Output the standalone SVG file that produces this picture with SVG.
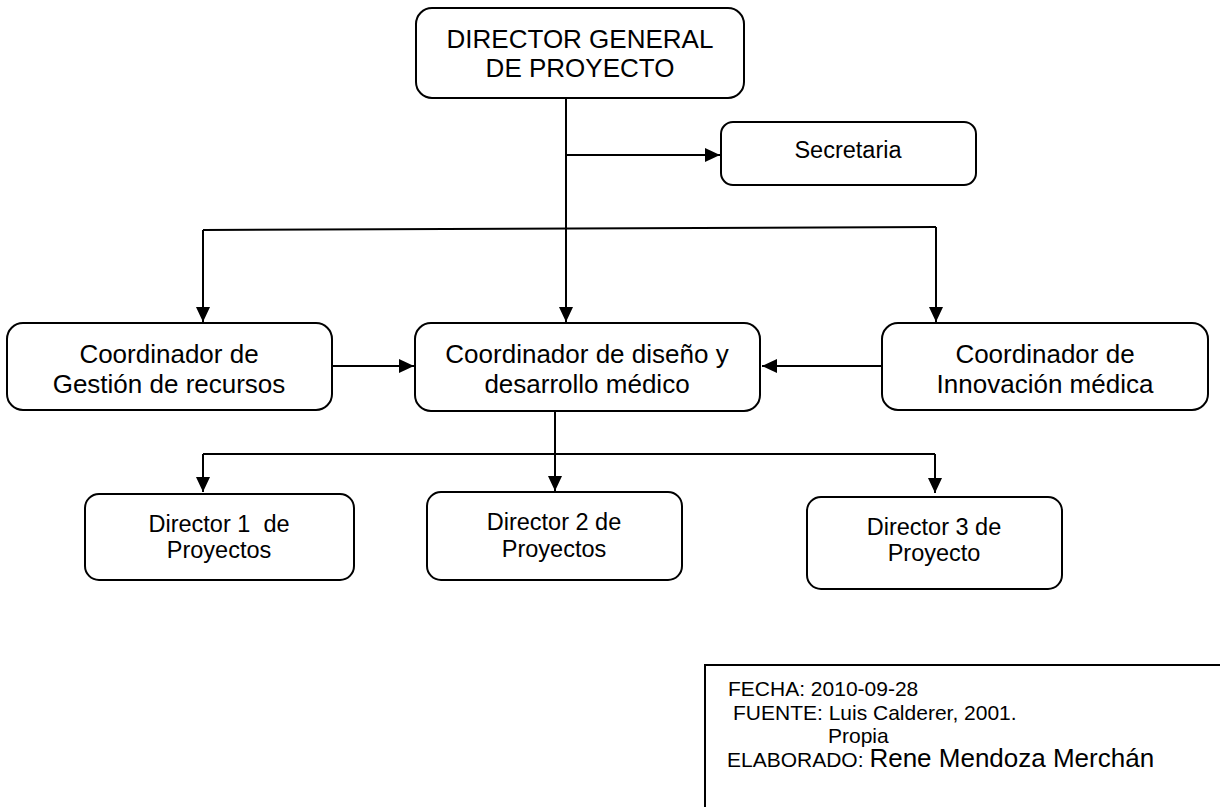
<svg xmlns="http://www.w3.org/2000/svg" width="1220" height="807" viewBox="0 0 1220 807">
  <defs>
    <marker id="arrow" viewBox="0 0 15 14" refX="15" refY="7" markerWidth="15" markerHeight="14" markerUnits="userSpaceOnUse" orient="auto">
      <path d="M0,0 L15,7 L0,14 Z" fill="#000"/>
    </marker>
    <style>
      .box { fill: #fff; stroke: #000; stroke-width: 2; }
      .line { fill: none; stroke: #000; stroke-width: 2; }
      .arr { fill: none; stroke: #000; stroke-width: 2; marker-end: url(#arrow); }
      text { font-family: "Liberation Sans", Arial, sans-serif; fill: #000; }
      .big { font-size: 26px; text-anchor: middle; }
      .mid { font-size: 23.5px; text-anchor: middle; }
      .foot { font-size: 21px; }
    </style>
  </defs>
  <rect width="1220" height="807" fill="#fff"/>

  <!-- connectors -->
  <g id="connectors">
    <path class="arr" d="M566,98 V322"/>
    <path class="arr" d="M566,155 H720"/>
    <path class="line" d="M203,230 L936,227"/>
    <path class="arr" d="M203,230 V322"/>
    <path class="arr" d="M936,227 V322"/>
    <path class="arr" d="M332,366 H414"/>
    <path class="arr" d="M882,366 H762"/>
    <path class="line" d="M555,411 V454"/>
    <path class="line" d="M203,454 H935"/>
    <path class="arr" d="M203,454 V492"/>
    <path class="arr" d="M555,454 V491"/>
    <path class="arr" d="M935,454 V493"/>
  </g>

  <g id="director-general">
    <rect class="box" x="416" y="8" width="328" height="90" rx="16"/>
    <text class="big" x="580" y="48">DIRECTOR GENERAL</text>
    <text class="big" x="580" y="77">DE PROYECTO</text>
  </g>

  <g id="secretaria">
    <rect class="box" x="721" y="122" width="255" height="63" rx="12"/>
    <text class="mid" x="848" y="158">Secretaria</text>
  </g>

  <g id="coord-gestion">
    <rect class="box" x="7" y="323" width="325" height="87" rx="16"/>
    <text class="big" x="169" y="363">Coordinador de</text>
    <text class="big" x="169" y="393">Gestión de recursos</text>
  </g>

  <g id="coord-diseno">
    <rect class="box" x="415" y="323" width="345" height="88" rx="16"/>
    <text class="big" x="587" y="363">Coordinador de diseño y</text>
    <text class="big" x="587" y="393">desarrollo médico</text>
  </g>

  <g id="coord-innovacion">
    <rect class="box" x="882" y="323" width="326" height="87" rx="16"/>
    <text class="big" x="1045" y="363">Coordinador de</text>
    <text class="big" x="1045" y="393">Innovación médica</text>
  </g>

  <g id="director-1">
    <rect class="box" x="85" y="494" width="269" height="86" rx="14"/>
    <text class="mid" x="219" y="532" xml:space="preserve">Director 1  de</text>
    <text class="mid" x="219" y="558">Proyectos</text>
  </g>

  <g id="director-2">
    <rect class="box" x="427" y="492" width="255" height="88" rx="14"/>
    <text class="mid" x="554" y="530">Director 2 de</text>
    <text class="mid" x="554" y="557">Proyectos</text>
  </g>

  <g id="director-3">
    <rect class="box" x="807" y="497" width="255" height="92" rx="14"/>
    <text class="mid" x="934" y="535">Director 3 de</text>
    <text class="mid" x="934" y="561">Proyecto</text>
  </g>

  <g id="ficha">
    <path class="line" d="M1222,665 H705 V809"/>
    <text class="foot" x="728" y="696">FECHA: 2010-09-28</text>
    <text class="foot" x="733" y="720">FUENTE: Luis Calderer, 2001.</text>
    <text class="foot" x="828" y="743">Propia</text>
    <text class="foot" x="727" y="767">ELABORADO: <tspan font-size="26px">Rene Mendoza Merchán</tspan></text>
  </g>
</svg>
